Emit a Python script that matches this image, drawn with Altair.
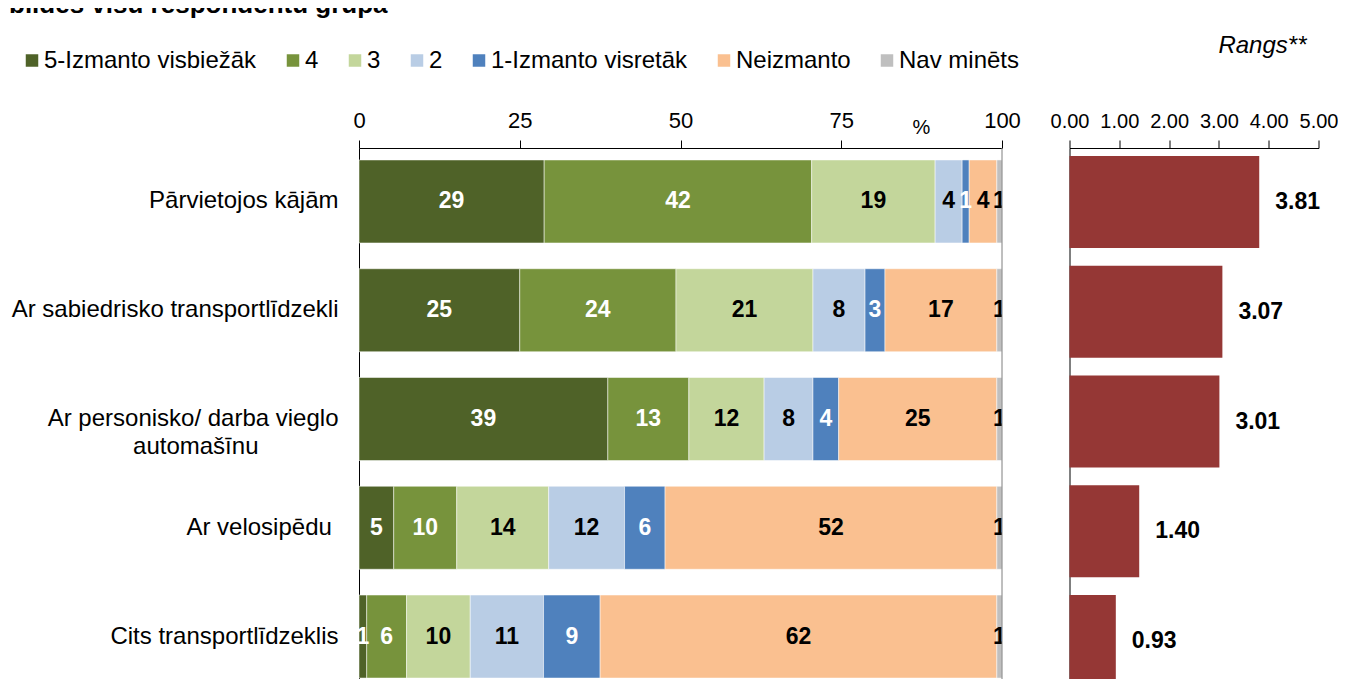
import altair as alt
import pandas as pd

FONT = "Liberation Sans"
NB = "\u00a0"
ZW = "\u200b"

title_text = "bildes visu respondentu grupa"
rank_title = "Rangs**"
axis_unit = "%"

categories = [
    "Pārvietojos kājām",
    "Ar sabiedrisko transportlīdzekli",
    "Ar personisko/ darba vieglo|automašīnu" + NB * 12 + ZW,
    "Ar velosipēdu" + NB + ZW,
    "Cits transportlīdzeklis",
]
series = ["5-Izmanto visbiežāk", "4", "3", "2", "1-Izmanto visretāk", "Neizmanto", "Nav minēts"]
colors = ["#4F6228", "#77933C", "#C3D69B", "#B9CDE5", "#4F81BD", "#FAC090", "#BFBFBF"]
white_label_series = ["5-Izmanto visbiežāk", "4", "1-Izmanto visretāk"]

s5 = [28.8, 25.0, 38.7, 5.4, 1.2]
s4 = [41.6, 24.3, 12.6, 9.8, 6.2]
s3 = [19.2, 21.3, 11.7, 14.3, 9.9]
s2 = [4.2, 8.1, 7.6, 11.8, 11.4]
s1 = [1.1, 3.1, 4.0, 6.3, 8.8]
s_none = [4.3, 17.4, 24.6, 51.6, 61.7]
s_na = [0.8, 0.8, 0.8, 0.8, 0.8]
rank = [3.81, 3.07, 3.01, 1.40, 0.93]

x_ticks = [0, 25, 50, 75, 100]
rank_ticks = [0, 1, 2, 3, 4, 5]

series_values = [s5, s4, s3, s2, s1, s_none, s_na]
rows = []
for si, (name, vals) in enumerate(zip(series, series_values)):
    for cat, v in zip(categories, vals):
        rows.append({"cat": cat, "series": name, "order": si, "value": v})
df = pd.DataFrame(rows)
rank_df = pd.DataFrame({"cat": categories, "rank": rank})

x_axis = alt.Axis(
    orient="top", values=x_ticks, title=axis_unit, titleX=562, titleY=-15,
    titleAngle=0, titleAlign="center", titleBaseline="alphabetic",
    titleFontSize=20, titleFontWeight="normal", titleColor="#000", titleFont=FONT,
    labelFontSize=22, labelFont=FONT, labelColor="#000", labelBaseline="alphabetic",
    labelPadding=13, tickSize=8, tickColor="#000", domainColor="#000", grid=False,
    labelFlush=False,
)
x_scale = alt.Scale(domain=[0, 100], nice=False)
y_left = alt.Y(
    "cat:N", sort=categories, title=None,
    scale=alt.Scale(paddingInner=0.237, paddingOuter=0.11),
    axis=alt.Axis(
        labelExpr="split(datum.label, '|')", labelFontSize=24, labelFont=FONT,
        labelColor="#000", labelPadding=21, ticks=False, tickSize=0,
        domainColor="#000", labelLimit=400, labelLineHeight=27.6, grid=False,
    ),
)

base = alt.Chart(df)
bars = base.mark_bar(stroke="white", strokeWidth=0.5).encode(
    x=alt.X("value:Q", stack="zero", scale=x_scale, axis=x_axis),
    y=y_left,
    color=alt.Color(
        "series:N", sort=series, scale=alt.Scale(domain=series, range=colors),
        legend=alt.Legend(
            title=None, orient="none", legendX=-339, legendY=-99.5,
            direction="horizontal", symbolType="square", symbolSize=156,
            symbolStrokeWidth=0, labelFontSize=24, labelFont=FONT, labelOffset=0,
            columnPadding=24, padding=0, labelLimit=400, labelColor="#000",
        ),
    ),
    order=alt.Order("order:Q"),
)
seg_labels = (
    base.transform_stack(
        stack="value", groupby=["cat"], as_=["v0", "v1"],
        sort=[alt.SortField("order", order="ascending")],
    )
    .transform_calculate(mid="(datum.v0 + datum.v1) / 2")
    .mark_text(fontWeight="bold", fontSize=23, font=FONT, clip=True, baseline="middle")
    .encode(
        x=alt.X("mid:Q", scale=x_scale, axis=x_axis),
        y=y_left,
        text=alt.Text("value:Q", format=".0f"),
        color=alt.condition(
            "indexof(" + str(white_label_series) + ", datum.series) >= 0",
            alt.value("white"), alt.value("black"),
        ),
    )
)
border = alt.Chart(pd.DataFrame({"x": [x_ticks[-1]]})).mark_rule(
    color="#7F7F7F", strokeWidth=1
).encode(x=alt.X("x:Q", scale=x_scale, axis=x_axis))

title_mark = alt.Chart(pd.DataFrame({"t": [title_text]})).mark_text(
    align="left", baseline="alphabetic", fontSize=26, fontWeight="bold",
    font=FONT, color="#000",
).encode(x=alt.value(-350), y=alt.value(-135), text="t:N")

left = alt.layer(bars, seg_labels, border, title_mark).properties(width=643, height=542)

r_x = alt.X(
    "rank:Q", scale=alt.Scale(domain=[0, 5], nice=False),
    axis=alt.Axis(
        orient="top", values=rank_ticks, format=".2f", title=None,
        labelFontSize=20, labelFont=FONT, labelColor="#000", labelBaseline="alphabetic",
        labelPadding=13, tickSize=8, tickColor="#000", domainColor="#000", grid=False,
        labelFlush=False,
    ),
)
r_y = alt.Y(
    "cat:N", sort=categories, title=None,
    scale=alt.Scale(paddingInner=0.162, paddingOuter=0.073),
    axis=alt.Axis(labels=False, ticks=False, domainColor="#000", grid=False),
)
rbase = alt.Chart(rank_df)
rbars = rbase.mark_bar(color="#953735").encode(x=r_x, y=r_y)
rtext = rbase.mark_text(
    align="left", baseline="middle", dx=16, fontWeight="bold", fontSize=23, font=FONT, color="#000"
).encode(x=r_x, y=r_y, text=alt.Text("rank:Q", format=".2f"))
rtitle = alt.Chart(pd.DataFrame({"t": [rank_title]})).mark_text(
    align="right", baseline="middle", fontStyle="italic", fontSize=24, font=FONT, color="#000"
).encode(x=alt.value(237), y=alt.value(-102), text="t:N")

right = alt.layer(rbars, rtext, rtitle).properties(width=249, height=547)

chart = (
    alt.hconcat(left, right, spacing=28.5)
    .properties(padding={"left": 1, "top": -16, "right": 0, "bottom": -16})
    .configure(font=FONT)
    .configure_view(strokeWidth=0)
)

chart.save("out.html", embed_options={"renderer": "svg", "actions": False})
